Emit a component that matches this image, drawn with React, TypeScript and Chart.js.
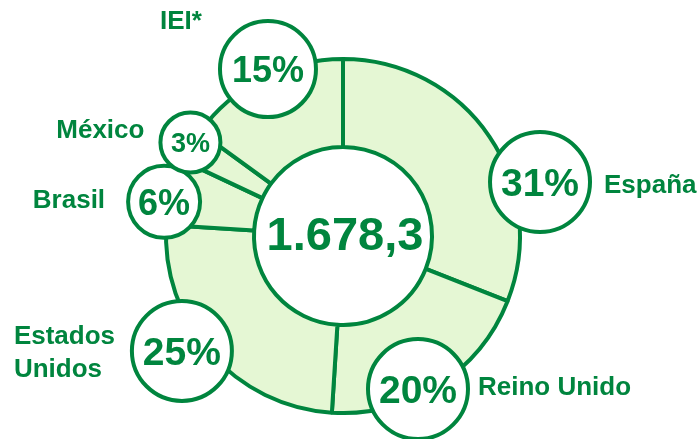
import React, { useEffect, useRef } from "react";
import { Chart, registerables } from "chart.js";

Chart.register(...registerables);

// ---- data ----
const categories = ["España", "Reino Unido", "Estados Unidos", "Brasil", "México", "IEI*"];
const shares = [31, 20, 25, 6, 3, 15];
const labelLines = [["España"], ["Reino Unido"], ["Estados", "Unidos"], ["Brasil"], ["México"], ["IEI*"]];
const totalLabel = "1.678,3";

// ---- style / annotation layout ----
const GREEN = "rgb(0,133,62)";
const FILL = "rgb(229,247,212)";
const FONT = "'Liberation Sans', Arial, Helvetica, sans-serif";
// bubble placement: angle (deg clockwise from top), distance as fraction of outer radius, radius px, font px
const bubbleAngle = [74.7, 153.9, 234.5, 280.8, 301.5, 335.8];
const bubbleDist = [1.154, 0.963, 1.118, 1.029, 1.011, 1.034];
const bubbleRadius = [50, 50, 50, 36, 30, 48];
const bubbleFont = [39, 39, 39, 36, 27, 36];
// label offsets from bubble center (x, first baseline), alignment
const labelDx = [64, 60, -168, -59, -46, -87];
const labelDy = [11, 6, -7, 6, -5, -40];
const labelAlign: CanvasTextAlign[] = ["left", "left", "left", "right", "right", "center"];
const LABEL_FONT = 26;
const LINE_GAP = 33;
const LINE_W = 4;

const bubblesPlugin = {
  id: "bubbles",
  afterDatasetsDraw(chart: any) {
    const meta = chart.getDatasetMeta(0);
    const arc = meta.data[0];
    if (!arc) return;
    const { x, y, outerRadius } = arc.getProps(["x", "y", "outerRadius"], true);
    const ctx = chart.ctx as CanvasRenderingContext2D;
    ctx.save();
    // center text
    ctx.fillStyle = GREEN;
    ctx.font = `bold 47px ${FONT}`;
    ctx.textAlign = "center";
    ctx.textBaseline = "alphabetic";
    ctx.fillText(totalLabel, x + 2, y + 14);

    shares.forEach((v, i) => {
      const a = (bubbleAngle[i] * Math.PI) / 180;
      const d = bubbleDist[i] * outerRadius;
      const bx = x + d * Math.sin(a);
      const by = y - d * Math.cos(a);
      ctx.beginPath();
      ctx.arc(bx, by, bubbleRadius[i], 0, Math.PI * 2);
      ctx.fillStyle = "#ffffff";
      ctx.fill();
      ctx.lineWidth = LINE_W;
      ctx.strokeStyle = GREEN;
      ctx.stroke();
      ctx.fillStyle = GREEN;
      ctx.font = `bold ${bubbleFont[i]}px ${FONT}`;
      ctx.textAlign = "center";
      ctx.fillText(`${v}%`, bx, by + bubbleFont[i] * 0.36);
      ctx.font = `bold ${LABEL_FONT}px ${FONT}`;
      ctx.textAlign = labelAlign[i];
      labelLines[i].forEach((line, k) => {
        ctx.fillText(line, bx + labelDx[i], by + labelDy[i] + k * LINE_GAP);
      });
    });
    ctx.restore();
  },
};

export default function App() {
  const ref = useRef<HTMLCanvasElement | null>(null);
  useEffect(() => {
    if (!ref.current) return;
    const chart = new Chart(ref.current, {
      type: "doughnut",
      data: {
        labels: categories,
        datasets: [
          {
            data: shares,
            backgroundColor: FILL,
            borderColor: GREEN,
            borderWidth: LINE_W,
            hoverOffset: 0,
          },
        ],
      },
      options: {
        responsive: false,
        animation: false,
        cutout: "50.3%",
        radius: 177,
        layout: { padding: { left: 166, right: 180, top: 59, bottom: 26 } },
        plugins: { legend: { display: false }, tooltip: { enabled: false } },
        events: [],
      },
      plugins: [bubblesPlugin],
    });
    return () => chart.destroy();
  }, []);
  return (
    <div style={{ position: "fixed", left: 0, top: 0, width: 700, height: 439, background: "#fff" }}>
      <canvas ref={ref} width={700} height={439} style={{ display: "block" }} />
    </div>
  );
}
